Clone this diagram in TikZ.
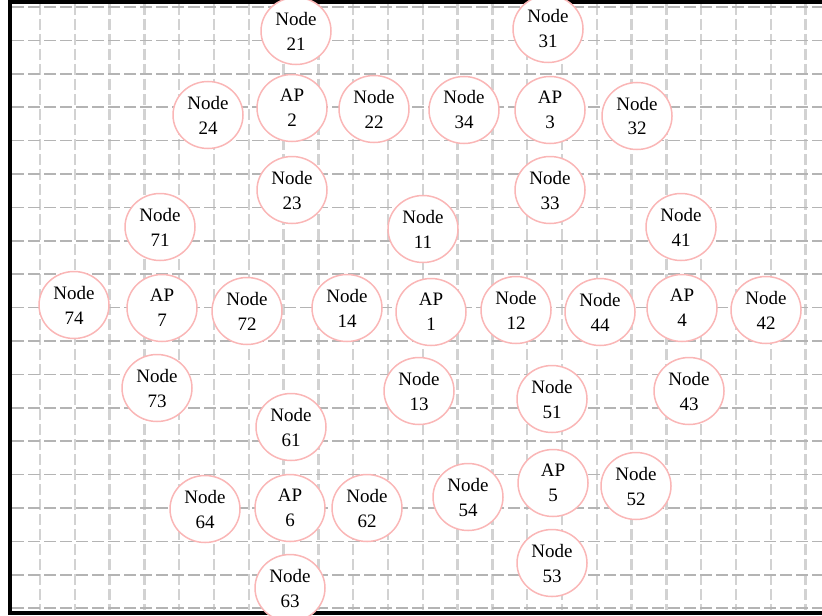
\documentclass[tikz,border=0pt]{standalone}
\usepackage{fontspec}
\setmainfont{Liberation Serif}
\usetikzlibrary{shapes.geometric}
\definecolor{wnring}{RGB}{250,182,182}
\definecolor{wnhline}{RGB}{180,180,180}
\definecolor{wnvline}{RGB}{210,210,210}
\tikzset{
  wn/.style={font=\fontsize{9.5}{12.5}\selectfont, text=black},
  wnsta/.style={
    wn, ellipse, draw=wnring, fill=white, line width=0.75pt,
    align=center, inner sep=0pt, minimum width=35pt, minimum height=33.5pt
  },
  wnap/.style={wnsta},
  wnhgrid/.style={draw=wnhline, line width=0.8pt, dash pattern=on 6pt off 2pt},
  wnvgrid/.style={draw=wnvline, line width=1.2pt, dash pattern=on 5.5pt off 2pt},
  wnframe/.style={draw=black, line width=2pt},
}

\begin{document}
\begin{tikzpicture}[wn, x=0.5pt, y=-0.5pt]
    \useasboundingbox (0,0) rectangle (822,615);

    % background grid
    \foreach \k in {0,...,22}
      \draw[wnvgrid] ({40+34.8*\k},4) -- ({40+34.8*\k},610);
    \foreach \k in {0,...,18}
      \draw[wnhgrid] (12,{7+33.4*\k}) -- (822,{7+33.4*\k});
    \draw[wnframe] (824,2) -- (10,2) -- (10,612.5) -- (824,612.5);

    % cell 1
    \node[wnap]  (ap1) at (431,312) {AP\\1};
    \node[wnsta] (n11) at (423,229) {Node\\11};
    \node[wnsta] (n12) at (516,310) {Node\\12};
    \node[wnsta] (n13) at (419,391) {Node\\13};
    \node[wnsta] (n14) at (347,308) {Node\\14};

    % cell 2
    \node[wnap]  (ap2) at (292,108) {AP\\2};
    \node[wnsta] (n21) at (296,31)  {Node\\21};
    \node[wnsta] (n22) at (374,109) {Node\\22};
    \node[wnsta] (n23) at (292,190) {Node\\23};
    \node[wnsta] (n24) at (208,115) {Node\\24};

    % cell 3
    \node[wnap]  (ap3) at (550,110) {AP\\3};
    \node[wnsta] (n31) at (548,29)  {Node\\31};
    \node[wnsta] (n32) at (637,116) {Node\\32};
    \node[wnsta] (n33) at (550,190) {Node\\33};
    \node[wnsta] (n34) at (464,110) {Node\\34};

    % cell 4
    \node[wnap]  (ap4) at (682,308) {AP\\4};
    \node[wnsta] (n41) at (681,227) {Node\\41};
    \node[wnsta] (n42) at (766,310) {Node\\42};
    \node[wnsta] (n43) at (689,391) {Node\\43};
    \node[wnsta] (n44) at (600,312) {Node\\44};

    % cell 5
    \node[wnap]  (ap5) at (553,483) {AP\\5};
    \node[wnsta] (n51) at (552,399) {Node\\51};
    \node[wnsta] (n52) at (636,486) {Node\\52};
    \node[wnsta] (n53) at (552,563) {Node\\53};
    \node[wnsta] (n54) at (468,497) {Node\\54};

    % cell 6
    \node[wnap]  (ap6) at (290,508) {AP\\6};
    \node[wnsta] (n61) at (291,427) {Node\\61};
    \node[wnsta] (n62) at (367,508) {Node\\62};
    \node[wnsta] (n63) at (290,588) {Node\\63};
    \node[wnsta] (n64) at (205,509) {Node\\64};

    % cell 7
    \node[wnap]  (ap7) at (162,308) {AP\\7};
    \node[wnsta] (n71) at (160,227) {Node\\71};
    \node[wnsta] (n72) at (247,311) {Node\\72};
    \node[wnsta] (n73) at (157,388) {Node\\73};
    \node[wnsta] (n74) at (74,305)  {Node\\74};
\end{tikzpicture}
\end{document}
